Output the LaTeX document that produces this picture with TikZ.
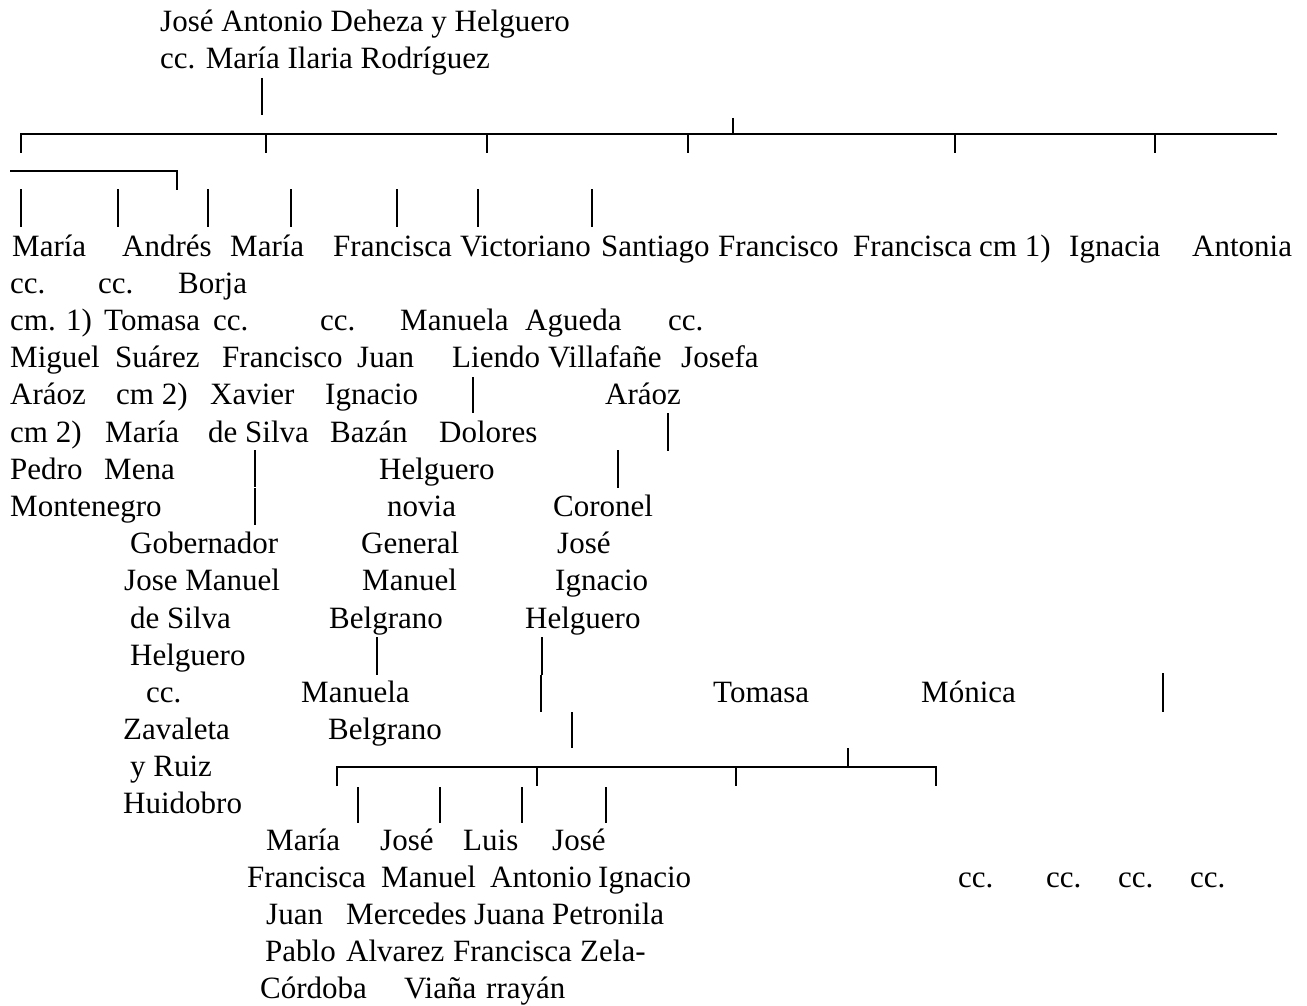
\documentclass[tikz,border=0pt]{standalone}
\usepackage{fontspec}
\setmainfont{Liberation Serif}
\usepackage{tikz}
\usetikzlibrary{positioning}

\tikzset{
  txt/.style={anchor=base west, inner sep=0pt, font=\fontsize{31}{37}\selectfont},
  tree/.style={line width=2.4pt},
  bar/.style={line width=2.2pt}
}

\begin{document}
\begin{tikzpicture}[x=1pt,y=-1pt]
    \useasboundingbox (0,0) rectangle (1307,1006);

    % Ancestors
    \node[txt] (jose) at (160,32) {José Antonio Deheza y Helguero};
    \node[txt] (esposa) at (160,69) {cc. María Ilaria Rodríguez};
    \draw[bar] (262,78) -- (262,115);

    % Children bracket
    \draw[tree] (21,153) -- (21,134) -- (1277,134);
    \foreach \x in {266, 487, 688, 955, 1155}
        \draw[tree] (\x,134) -- (\x,153);
    \draw[tree] (733,118) -- (733,134);
    \draw[tree] (10,171) -- (177,171) -- (177,190);
    \foreach \x in {21, 118, 208, 291, 397, 478, 592}
        \draw[bar] (\x,189) -- (\x,227);

    % Row 0
    \node[txt] (maria) at (12,256) {María};
    \node[txt] (andres) at (122,256) {Andrés};
    \node[txt] (mariab) at (230,256) {María};
    \node[txt] (francisca) at (333,256) {Francisca};
    \node[txt] (victoriano) at (460,256) {Victoriano};
    \node[txt] (santiago) at (601,256) {Santiago};
    \node[txt] (francisco) at (718,256) {Francisco};
    \node[txt] (franciscab) at (853,256) {Francisca};
    \node[txt] (cmuno) at (979,256) {cm 1)};
    \node[txt] (ignacia) at (1069,256) {Ignacia};
    \node[txt] (antonia) at (1192,256) {Antonia};

    % Row 1
    \node[txt] (ccmaria) at (10,293) {cc.};
    \node[txt] (ccandres) at (98,293) {cc.};
    \node[txt] (borja) at (178,293) {Borja};

    % Row 2
    \node[txt] (cmmaria) at (10,330) {cm. 1)};
    \node[txt] (tomasa) at (104,330) {Tomasa};
    \node[txt] (ccborja) at (213,330) {cc.};
    \node[txt] (ccfrancisca) at (320,330) {cc.};
    \node[txt] (manuela) at (400,330) {Manuela};
    \node[txt] (agueda) at (525,330) {Agueda};
    \node[txt] (ccfrancisco) at (668,330) {cc.};

    % Row 3
    \node[txt] (miguel) at (10,367) {Miguel};
    \node[txt] (suarez) at (115,367) {Suárez};
    \node[txt] (franciscoc) at (222,367) {Francisco};
    \node[txt] (juan) at (357,367) {Juan};
    \node[txt] (liendo) at (452,367) {Liendo};
    \node[txt] (villafane) at (548,367) {Villafañe};
    \node[txt] (josefa) at (681,367) {Josefa};

    % Row 4
    \node[txt] (araoz) at (10,404) {Aráoz};
    \node[txt] (cmdos) at (116,404) {cm 2)};
    \node[txt] (xavier) at (210,404) {Xavier};
    \node[txt] (ignacio) at (325,404) {Ignacio};
    \node[txt] (araozb) at (605,404) {Aráoz};
    \draw[bar] (473,377) -- (473,413);

    % Row 5
    \node[txt] (cmdosb) at (10,442) {cm 2)};
    \node[txt] (mariac) at (105,442) {María};
    \node[txt] (desilva) at (208,442) {de Silva};
    \node[txt] (bazan) at (330,442) {Bazán};
    \node[txt] (dolores) at (439,442) {Dolores};
    \draw[bar] (668,413) -- (668,451);

    % Row 6
    \node[txt] (pedro) at (10,479) {Pedro};
    \node[txt] (mena) at (104,479) {Mena};
    \node[txt] (helguero) at (379,479) {Helguero};
    \draw[bar] (255,450) -- (255,487);
    \draw[bar] (618,450) -- (618,488);

    % Row 7
    \node[txt] (montenegro) at (10,516) {Montenegro};
    \node[txt] (novia) at (387,516) {novia};
    \node[txt] (coronel) at (553,516) {Coronel};
    \draw[bar] (255,488) -- (255,525);

    % Row 8
    \node[txt] (gobernador) at (130,553) {Gobernador};
    \node[txt] (general) at (361,553) {General};
    \node[txt] (josec) at (557,553) {José};

    % Row 9
    \node[txt] (josemanuel) at (124,590) {Jose Manuel};
    \node[txt] (manuel) at (362,590) {Manuel};
    \node[txt] (ignaciob) at (555,590) {Ignacio};

    % Row 10
    \node[txt] (desilvab) at (130,628) {de Silva};
    \node[txt] (belgrano) at (329,628) {Belgrano};
    \node[txt] (helguerob) at (525,628) {Helguero};

    % Row 11
    \node[txt] (helgueroc) at (130,665) {Helguero};
    \draw[bar] (377,637) -- (377,675);
    \draw[bar] (542,637) -- (542,675);

    % Row 12
    \node[txt] (cczavaleta) at (146,702) {cc.};
    \node[txt] (manuelab) at (301,702) {Manuela};
    \node[txt] (tomasab) at (713,702) {Tomasa};
    \node[txt] (monica) at (921,702) {Mónica};
    \draw[bar] (541,675) -- (541,712);
    \draw[bar] (1163,673) -- (1163,712);

    % Row 13
    \node[txt] (zavaleta) at (123,739) {Zavaleta};
    \node[txt] (belgranob) at (328,739) {Belgrano};
    \draw[bar] (572,712) -- (572,748);

    % Row 14: grandchildren bracket
    \node[txt] (yruiz) at (130,776) {y Ruiz};
    \draw[tree] (337,786) -- (337,767) -- (936,767) -- (936,786);
    \foreach \x in {537, 736}
        \draw[tree] (\x,767) -- (\x,786);
    \draw[tree] (848,748) -- (848,767);

    % Row 15
    \node[txt] (huidobro) at (123,813) {Huidobro};
    \foreach \x in {358, 440, 522, 606}
        \draw[bar] (\x,787) -- (\x,823);

    % Row 16
    \node[txt] (mariad) at (266,850) {María};
    \node[txt] (josed) at (380,850) {José};
    \node[txt] (luis) at (463,850) {Luis};
    \node[txt] (josee) at (552,850) {José};

    % Row 17
    \node[txt] (franciscad) at (247,887) {Francisca};
    \node[txt] (manuelc) at (381,887) {Manuel};
    \node[txt] (antonio) at (490,887) {Antonio};
    \node[txt] (ignacioc) at (598,887) {Ignacio};
    \node[txt] (cca) at (958,887) {cc.};
    \node[txt] (ccb) at (1046,887) {cc.};
    \node[txt] (ccc) at (1118,887) {cc.};
    \node[txt] (ccd) at (1190,887) {cc.};

    % Row 18
    \node[txt] (juanb) at (266,924) {Juan};
    \node[txt] (mercedes) at (346,924) {Mercedes};
    \node[txt] (juana) at (474,924) {Juana};
    \node[txt] (petronila) at (552,924) {Petronila};

    % Row 19
    \node[txt] (pablo) at (265,961) {Pablo};
    \node[txt] (alvarez) at (346,961) {Alvarez};
    \node[txt] (franciscae) at (453,961) {Francisca};
    \node[txt] (zela) at (580,961) {Zela-};

    % Row 20
    \node[txt] (cordoba) at (260,998) {Córdoba};
    \node[txt] (viana) at (404,998) {Viaña};
    \node[txt] (rrayan) at (486,998) {rrayán};
\end{tikzpicture}
\end{document}
